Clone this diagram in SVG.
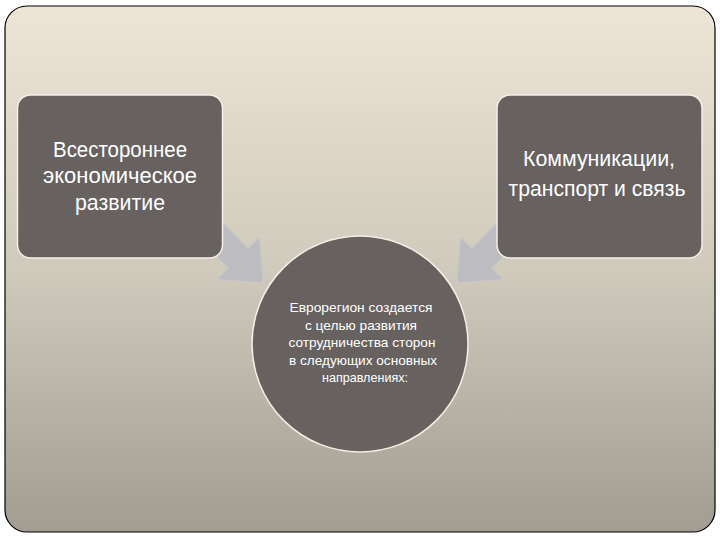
<svg xmlns="http://www.w3.org/2000/svg" width="720" height="540" viewBox="0 0 720 540">
  <defs>
    <linearGradient id="bg" x1="0" y1="0" x2="0" y2="1">
      <stop offset="0" stop-color="#eee5d6"/>
      <stop offset="0.5" stop-color="#cfcabc"/>
      <stop offset="1" stop-color="#a19d91"/>
    </linearGradient>
    <style>
      .node { fill: #67625f; stroke: #f4f0e8; stroke-width: 1.5; }
      .arrow { fill: #bdbcc0; stroke: #c9c8ca; stroke-width: 1; }
      .big { font-family: "Liberation Sans", Arial, sans-serif; font-size: 22px; fill: #ffffff; text-anchor: middle; }
      .small { font-family: "Liberation Sans", Arial, sans-serif; font-size: 13.5px; fill: #ffffff; text-anchor: middle; }
    </style>
  </defs>

  <rect x="0" y="0" width="720" height="540" fill="#ffffff"/>
  <rect x="5" y="6" width="710" height="526" rx="22" ry="22" fill="url(#bg)" stroke="#000000" stroke-width="1.2"/>

  <g id="connectors">
    <polygon class="arrow" transform="translate(263,283) rotate(45)" points="0,0 -35,-30 -35,-14 -75,-14 -75,14 -35,14 -35,30"/>
    <polygon class="arrow" transform="translate(457,283) rotate(135)" points="0,0 -35,-30 -35,-14 -75,-14 -75,14 -35,14 -35,30"/>
  </g>

  <g id="node-left">
    <rect class="node" x="17.5" y="95" width="205" height="163" rx="13" ry="13"/>
    <text class="big" x="120" y="157" textLength="134" lengthAdjust="spacingAndGlyphs">Всестороннее</text>
    <text class="big" x="120" y="183" textLength="154" lengthAdjust="spacingAndGlyphs">экономическое</text>
    <text class="big" x="120" y="210" textLength="90" lengthAdjust="spacingAndGlyphs">развитие</text>
  </g>

  <g id="node-right">
    <rect class="node" x="497" y="95" width="205" height="163" rx="13" ry="13"/>
    <text class="big" x="599" y="166" textLength="152" lengthAdjust="spacingAndGlyphs">Коммуникации,</text>
    <text class="big" x="597" y="196" textLength="177" lengthAdjust="spacingAndGlyphs">транспорт и связь</text>
  </g>

  <g id="node-center">
    <circle class="node" cx="360" cy="344" r="108"/>
    <text class="small" x="361" y="312" textLength="143" lengthAdjust="spacingAndGlyphs">Еврорегион создается</text>
    <text class="small" x="361" y="329.5" textLength="112" lengthAdjust="spacingAndGlyphs">с целью развития</text>
    <text class="small" x="362" y="347" textLength="147" lengthAdjust="spacingAndGlyphs">сотрудничества сторон</text>
    <text class="small" x="363" y="364.5" textLength="148" lengthAdjust="spacingAndGlyphs">в следующих основных</text>
    <text class="small" x="365" y="382" textLength="86" lengthAdjust="spacingAndGlyphs">направлениях:</text>
  </g>
</svg>
